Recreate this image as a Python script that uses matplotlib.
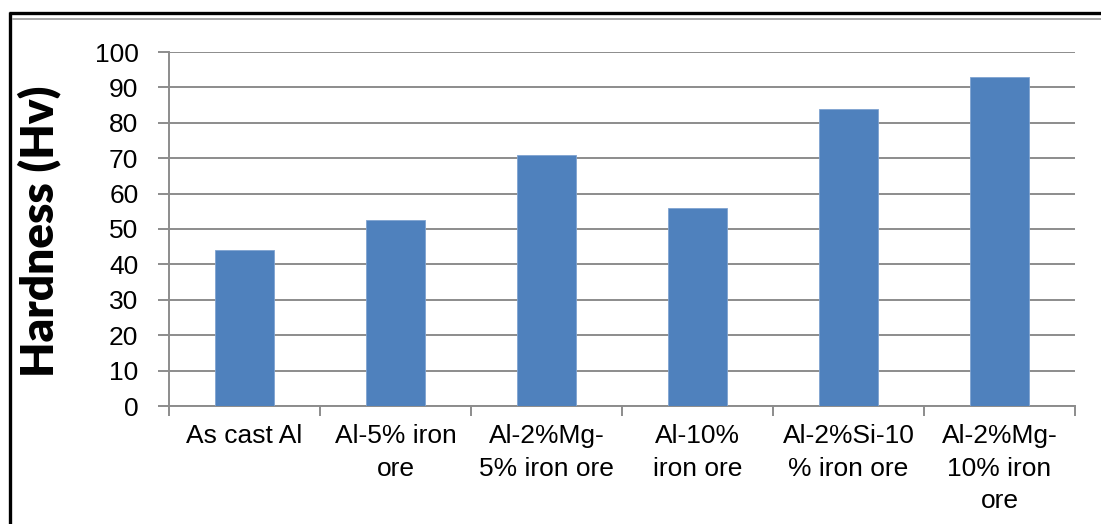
import matplotlib
matplotlib.use("Agg")
import matplotlib.pyplot as plt
from matplotlib.lines import Line2D

categories = ["As cast Al", "Al-5% iron\nore", "Al-2%Mg-\n5% iron ore", "Al-10%\niron ore",
              "Al-2%Si-10\n% iron ore", "Al-2%Mg-\n10% iron\nore"]
hardness = [44, 52.5, 71, 56, 84, 93]
y_ticks = [0, 10, 20, 30, 40, 50, 60, 70, 80, 90, 100]

W, H = 1101, 524
fig = plt.figure(figsize=(W / 100, H / 100), dpi=100)
fig.patch.set_facecolor("white")

ax = fig.add_axes([169 / W, 1 - 406 / H, (1075 - 169) / W, (406 - 52) / H])
x = list(range(len(categories)))
ax.bar(x, hardness, width=0.39, color="#4F81BD", edgecolor="#7FA3D0", linewidth=0.6, zorder=3)

ax.set_xlim(-0.5, len(categories) - 0.5)
ax.set_ylim(0, 100)
ax.set_yticks(y_ticks)
ax.set_yticklabels([str(v) for v in y_ticks], fontsize=19, family="Liberation Sans")
ax.yaxis.grid(True, color="#8C8C8C", linewidth=1.4, zorder=0)
ax.set_axisbelow(True)

ax.set_xticks(x)
ax.set_xticklabels(categories, fontsize=19, family="Liberation Sans", linespacing=1.45, va="top")
ax.tick_params(axis="x", which="major", length=0, pad=13)
ax.set_xticks([i - 0.5 for i in range(len(categories) + 1)], minor=True)
ax.tick_params(axis="x", which="minor", length=7, width=1.4, color="#8C8C8C", direction="out")
ax.tick_params(axis="y", length=8, width=1.4, color="#8C8C8C", direction="out", pad=14)

for s in ["top", "right"]:
    ax.spines[s].set_visible(False)
for s in ["left", "bottom"]:
    ax.spines[s].set_color("#8C8C8C")
    ax.spines[s].set_linewidth(1.4)

fig.text(39 / W, 1 - 231 / H, "Hardness (Hv)", rotation=90, ha="center", va="center",
         fontsize=33, fontweight="heavy", family="Lato")

# outer frame
fig.add_artist(Line2D([10 / W, 10 / W], [0, 1 - 12 / H], color="black", linewidth=2.4,
                      solid_capstyle="butt", transform=fig.transFigure))
fig.add_artist(Line2D([9 / W, 1], [1 - 13 / H, 1 - 13 / H], color="black", linewidth=2.4,
                      solid_capstyle="butt", transform=fig.transFigure))
fig.add_artist(Line2D([12 / W, 1], [1 - 19 / H, 1 - 19 / H], color="#A6A6A6", linewidth=1.4,
                      solid_capstyle="butt", transform=fig.transFigure))

fig.savefig("out.png", dpi=100)
